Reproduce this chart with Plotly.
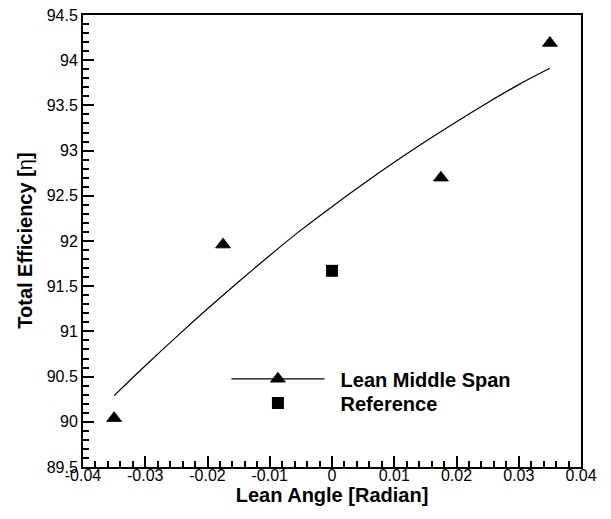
import plotly.graph_objects as go

# Measured points (Lean Middle Span)
lean_x = [-0.035, -0.0175, 0.0175, 0.035]
lean_y = [90.04, 91.96, 92.70, 94.19]

# Reference point
ref_x = [0.0]
ref_y = [91.67]

# Trend curve
curve_x = [-0.035, -0.03, -0.025, -0.02, -0.015, -0.01, -0.005, 0.0,
           0.005, 0.01, 0.015, 0.02, 0.025, 0.03, 0.035]
curve_y = [90.29, 90.62, 90.94, 91.25, 91.55, 91.84, 92.12, 92.38,
           92.63, 92.87, 93.10, 93.32, 93.53, 93.73, 93.91]

x_tickvals = [-0.04, -0.03, -0.02, -0.01, 0, 0.01, 0.02, 0.03, 0.04]
x_ticktext = ["-0.04", "-0.03", "-0.02", "-0.01", "0", "0.01", "0.02", "0.03", "0.04"]
y_tickvals = [89.5, 90, 90.5, 91, 91.5, 92, 92.5, 93, 93.5, 94, 94.5]
y_ticktext = ["89.5", "90", "90.5", "91", "91.5", "92", "92.5", "93", "93.5", "94", "94.5"]

x_title = "Lean Angle [Radian]"
y_title = "<b>Total Efficiency [</b>η<b>]</b>"

FONT = "Liberation Sans, Arial, sans-serif"
NB = "\u00a0"

fig = go.Figure()
fig.add_trace(go.Scatter(x=curve_x, y=curve_y, mode="lines",
                         line=dict(color="black", width=1.2, shape="spline"),
                         showlegend=False, hoverinfo="skip"))
fig.add_trace(go.Scatter(x=lean_x, y=lean_y, mode="markers",
                         marker=dict(symbol="triangle-up", size=13, color="black",
                                     line=dict(color="black", width=0.8)),
                         showlegend=False))
# legend entry (line + triangle)
fig.add_trace(go.Scatter(x=[None], y=[None], mode="lines+markers",
                         name=NB * 2 + "Lean Middle Span", legend="legend",
                         line=dict(color="black", width=1.2),
                         marker=dict(symbol="triangle-up", size=13, color="black",
                                     line=dict(color="black", width=0.8))))
fig.add_trace(go.Scatter(x=ref_x, y=ref_y, mode="markers",
                         name=NB * 2 + "Reference", legend="legend2",
                         marker=dict(symbol="square", size=12, color="black")))

axis_common = dict(
    showgrid=False, zeroline=False, showline=True, linecolor="black", linewidth=2,
    mirror=True, ticks="inside", tickcolor="black", tickwidth=2, ticklen=11,
    tickfont=dict(family=FONT, size=16, color="black"), automargin=False,
)

fig.update_xaxes(range=[-0.04, 0.04], tickvals=x_tickvals, ticktext=x_ticktext,
                 ticklabelstandoff=-7,
                 minor=dict(dtick=0.002, ticks="inside", ticklen=6, tickwidth=1.5,
                            tickcolor="black", tick0=-0.04),
                 title=dict(text="<b>" + x_title + "</b>", standoff=0,
                            font=dict(family=FONT, size=20, color="black")),
                 **axis_common)
fig.update_yaxes(range=[89.5, 94.5], tickvals=y_tickvals, ticktext=y_ticktext,
                 minor=dict(dtick=0.1, ticks="inside", ticklen=6, tickwidth=1.5,
                            tickcolor="black", tick0=89.5),
                 **axis_common)

fig.add_annotation(text=y_title, xref="paper", yref="paper",
                   x=-0.117, y=0.5, xanchor="center", yanchor="middle",
                   textangle=-90, showarrow=False,
                   font=dict(family=FONT, size=20, color="black"))

legend_common = dict(xanchor="left", yanchor="middle", bgcolor="rgba(0,0,0,0)",
                     itemwidth=93, borderwidth=0,
                     font=dict(family=FONT, size=20, color="black", weight="bold"))

fig.update_layout(
    width=611, height=519,
    margin=dict(l=83, r=30, t=15, b=52),
    paper_bgcolor="white", plot_bgcolor="white",
    font=dict(family=FONT, color="black"),
    legend=dict(x=0.288, y=0.195, **legend_common),
    legend2=dict(x=0.288, y=0.1416, **legend_common),
)

fig.write_html("out.html", config={"displayModeBar": False},
               post_script="document.body.style.margin='0';document.body.style.overflow='hidden';")
